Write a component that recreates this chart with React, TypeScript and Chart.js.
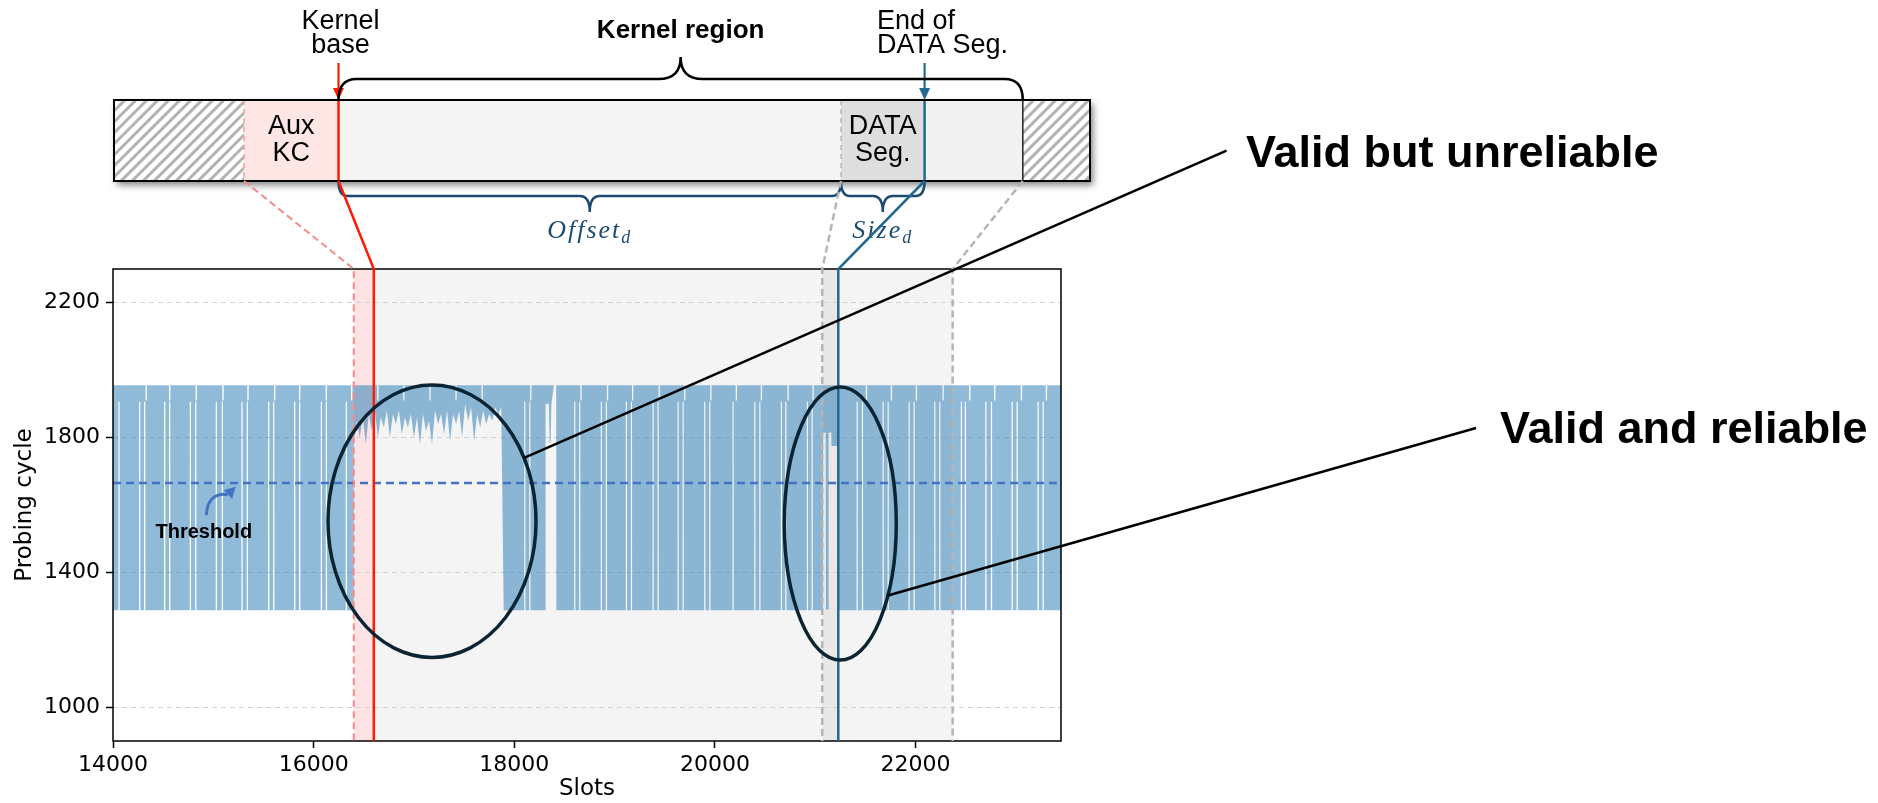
import React, { useEffect, useRef } from "react";
import { Chart, registerables } from "chart.js";

Chart.register(...registerables);

// ---------------- data ----------------
const slotRange = [14000, 23450];
const cycleRange = [900, 2300];
const slotTicks = [14000, 16000, 18000, 20000, 22000];
const cycleTicks = [1000, 1400, 1800, 2200];

const thresholdCycle = 1665;
const bandTopCycle = 1955;
const bandBottomCycle = 1288;
const notchCycle = 1910;
const gapCycle = 1906;

// slot ranges where probing alternates between fast (~1290) and slow (~1955)
const denseRanges = [
  [14000, 16395],
  [17895, 18310],
  [18420, 21075],
  [21225, 23450],
];
// slots where the band has a white gap (no fast probe)
const gapSlots = [
  14060, 14266, 14316, 14515, 14565, 14771, 14825, 15030, 15090, 15286, 15339, 15552, 15602, 15811,
  15861, 16077, 16127, 16326, 18105, 18155, 18603, 18652, 18868, 18918, 19118, 19168, 19384, 19434,
  19633, 19683, 19899, 19949, 20181, 20398, 20448, 20663, 20707, 20922, 20969, 21418, 21471, 21677,
  21727, 21936, 21986, 22192, 22242, 22457, 22497, 22701, 22757, 22963, 23013, 23222, 23272,
];
// slots where the top of the band dips
const notchSlots = [
  14332, 14565, 14830, 15097, 15346, 15612, 15861, 16127, 16380, 16640, 16900, 17160, 17420, 17680,
  18165, 18665, 18930, 19180, 19445, 19700, 19960, 20214, 20464, 20730, 20979, 21511, 21760, 22009,
  22275, 22541, 22790, 23056, 23305,
];
// lowest probing cycle inside the kernel-start region (every 30 slots from 16400)
const reliefStartSlot = 16400;
const reliefStepSlots = 30;
const reliefLows = [
  1790, 1850, 1800, 1860, 1780, 1870, 1820, 1880, 1800, 1860, 1830, 1880, 1800, 1870, 1840, 1880,
  1810, 1860, 1830, 1870, 1800, 1860, 1780, 1870, 1820, 1850, 1780, 1880, 1840, 1870, 1810, 1880,
  1790, 1870, 1840, 1880, 1800, 1900, 1850, 1890, 1790, 1870, 1830, 1880, 1840, 1870, 1850, 1890,
  1870, 1890,
];
const dropoutSlots = [18312, 18345, 18352, 18362, 18370, 18395, 18418];
const dropoutLows = [1900, 1900, 1785, 1785, 1900, 1955, 1955];
const dataSegSlots = [21078, 21105, 21108, 21130, 21133, 21160, 21163, 21222];
const dataSegLows = [1815, 1815, 1290, 1290, 1815, 1815, 1775, 1775];

// region markers (slots)
const auxStartSlot = 16400;
const kernelBaseSlot = 16600;
const dataSegStartSlot = 21070;
const dataSegEndSlot = 21230;
const kernelEndSlot = 22370;

const ellipses = [
  { cx: 17180, cy: 1552, rx: 1037, ry: 404, callAngle: -27.7 },
  { cx: 21250, cy: 1545, rx: 558, ry: 405, callAngle: 31.8 },
];
const calloutTexts = ["Valid but unreliable", "Valid and reliable"];

// --------------- builders ---------------
type P = { x: number; y: number };
function buildUpper(): P[] {
  const pts: P[] = [{ x: slotRange[0], y: bandTopCycle }];
  for (const n of notchSlots) {
    pts.push({ x: n - 7, y: bandTopCycle }, { x: n - 6, y: notchCycle }, { x: n + 6, y: notchCycle }, { x: n + 7, y: bandTopCycle });
  }
  pts.push({ x: slotRange[1], y: bandTopCycle });
  return pts.sort((a, b) => a.x - b.x);
}
function buildLower(): P[] {
  const pts: P[] = [];
  for (const [a, b] of denseRanges) {
    pts.push({ x: a, y: bandBottomCycle });
    for (const g of gapSlots) {
      if (g - 8 > a && g + 8 < b) {
        pts.push({ x: g - 7, y: bandBottomCycle }, { x: g - 6, y: gapCycle }, { x: g + 6, y: gapCycle }, { x: g + 7, y: bandBottomCycle });
      }
    }
    pts.push({ x: b, y: bandBottomCycle });
  }
  reliefLows.forEach((v, i) => pts.push({ x: reliefStartSlot + i * reliefStepSlots, y: v }));
  dropoutSlots.forEach((s, i) => pts.push({ x: s, y: dropoutLows[i] }));
  dataSegSlots.forEach((s, i) => pts.push({ x: s, y: dataSegLows[i] }));
  return pts.sort((a, b) => a.x - b.x);
}

// --------------- drawing helpers ---------------
const SANS = '"Liberation Sans", Arial, sans-serif';
const AXIS = '"DejaVu Sans", sans-serif';

function brace(ctx: CanvasRenderingContext2D, x1: number, x2: number, yBase: number, yLine: number, yTip: number, rEnd: number, rTip: number) {
  const mid = (x1 + x2) / 2;
  ctx.beginPath();
  ctx.moveTo(x1, yBase);
  ctx.quadraticCurveTo(x1, yLine, x1 + rEnd, yLine);
  ctx.lineTo(mid - rTip, yLine);
  ctx.quadraticCurveTo(mid, yLine, mid, yTip);
  ctx.quadraticCurveTo(mid, yLine, mid + rTip, yLine);
  ctx.lineTo(x2 - rEnd, yLine);
  ctx.quadraticCurveTo(x2, yLine, x2, yBase);
  ctx.stroke();
}

function arrowDown(ctx: CanvasRenderingContext2D, x: number, y0: number, y1: number, color: string) {
  ctx.strokeStyle = color;
  ctx.fillStyle = color;
  ctx.lineWidth = 2.2;
  ctx.setLineDash([]);
  ctx.beginPath();
  ctx.moveTo(x, y0);
  ctx.lineTo(x, y1 - 8);
  ctx.stroke();
  ctx.beginPath();
  ctx.moveTo(x - 5.5, y1 - 12);
  ctx.lineTo(x + 5.5, y1 - 12);
  ctx.lineTo(x, y1);
  ctx.closePath();
  ctx.fill();
}

function hatch(ctx: CanvasRenderingContext2D, x0: number, x1: number, y0: number, y1: number) {
  ctx.save();
  ctx.fillStyle = "#ffffff";
  ctx.fillRect(x0, y0, x1 - x0, y1 - y0);
  ctx.beginPath();
  ctx.rect(x0, y0, x1 - x0, y1 - y0);
  ctx.clip();
  ctx.strokeStyle = "#b2b2b2";
  ctx.lineWidth = 3;
  const h = y1 - y0;
  ctx.beginPath();
  for (let x = x0 - h; x < x1 + h; x += 11) {
    ctx.moveTo(x, y1);
    ctx.lineTo(x + h, y0);
  }
  ctx.stroke();
  ctx.restore();
}

function mathLabel(ctx: CanvasRenderingContext2D, main: string, sub: string, cx: number, baseline: number) {
  ctx.save();
  ctx.fillStyle = "#1c4a72";
  (ctx as any).letterSpacing = "2px";
  ctx.font = 'italic 26px "Liberation Serif", serif';
  const w1 = ctx.measureText(main).width;
  ctx.font = 'italic 18px "Liberation Serif", serif';
  const w2 = ctx.measureText(sub).width;
  const x0 = cx - (w1 + w2) / 2;
  ctx.textAlign = "left";
  ctx.textBaseline = "alphabetic";
  ctx.font = 'italic 26px "Liberation Serif", serif';
  ctx.fillText(main, x0, baseline);
  ctx.font = 'italic 18px "Liberation Serif", serif';
  ctx.fillText(sub, x0 + w1, baseline + 5);
  ctx.restore();
}

// --------------- plugin ---------------
const overlay = {
  id: "overlay",
  beforeDraw(chart: any) {
    const { ctx, chartArea: a, scales } = chart;
    const x = scales.x;
    ctx.save();
    ctx.fillStyle = "#ffffff";
    ctx.fillRect(0, 0, chart.width, chart.height);
    const band = (s0: number, s1: number, color: string) => {
      const p0 = x.getPixelForValue(s0);
      const p1 = x.getPixelForValue(s1);
      ctx.fillStyle = color;
      ctx.fillRect(p0, a.top, p1 - p0, a.bottom - a.top);
    };
    band(auxStartSlot, kernelBaseSlot, "#fde3e3");
    band(kernelBaseSlot, kernelEndSlot, "#f4f4f4");
    band(dataSegStartSlot, dataSegEndSlot, "#e8e8e8");
    ctx.restore();
  },
  afterDatasetsDraw(chart: any) {
    const { ctx, chartArea: a, scales } = chart;
    const x = scales.x;
    const y = scales.y;
    ctx.save();

    // frame
    ctx.strokeStyle = "#000";
    ctx.lineWidth = 1.5;
    ctx.setLineDash([]);
    ctx.strokeRect(a.left, a.top, a.right - a.left, a.bottom - a.top);

    // ---------- top diagram ----------
    const bx0 = 114, bx1 = 1090, by0 = 100, by1 = 181;
    const hatchR = 244, baseX = 338.5, segL = 841, segR = 924.6, regionR = 1022.8;

    ctx.save();
    ctx.shadowColor = "rgba(0,0,0,0.5)";
    ctx.shadowBlur = 7;
    ctx.shadowOffsetX = 3;
    ctx.shadowOffsetY = 4;
    ctx.fillStyle = "#ffffff";
    ctx.fillRect(bx0, by0, bx1 - bx0, by1 - by0);
    ctx.restore();

    hatch(ctx, bx0, hatchR, by0, by1);
    hatch(ctx, regionR, bx1, by0, by1);
    ctx.fillStyle = "#fde6e4";
    ctx.fillRect(hatchR, by0, baseX - hatchR, by1 - by0);
    ctx.fillStyle = "#f5f5f5";
    ctx.fillRect(baseX, by0, segL - baseX, by1 - by0);
    ctx.fillStyle = "#dedede";
    ctx.fillRect(segL, by0, segR - segL, by1 - by0);
    ctx.fillStyle = "#f1f1f1";
    ctx.fillRect(segR, by0, regionR - segR, by1 - by0);

    // inner separators
    ctx.lineWidth = 1.5;
    ctx.setLineDash([5, 4]);
    ctx.strokeStyle = "#f4a0a0";
    ctx.beginPath(); ctx.moveTo(hatchR, by0); ctx.lineTo(hatchR, by1); ctx.stroke();
    ctx.strokeStyle = "#b8b8b8";
    ctx.beginPath(); ctx.moveTo(segL, by0); ctx.lineTo(segL, by1); ctx.stroke();
    ctx.setLineDash([]);
    ctx.strokeStyle = "#222";
    ctx.lineWidth = 1.5;
    ctx.beginPath(); ctx.moveTo(regionR, by0); ctx.lineTo(regionR, by1); ctx.stroke();

    ctx.strokeStyle = "#ff1a00";
    ctx.lineWidth = 2.5;
    ctx.beginPath(); ctx.moveTo(baseX, by0); ctx.lineTo(baseX, by1); ctx.stroke();
    ctx.strokeStyle = "#23698f";
    ctx.beginPath(); ctx.moveTo(segR, by0); ctx.lineTo(segR, by1); ctx.stroke();

    ctx.strokeStyle = "#000";
    ctx.lineWidth = 2;
    ctx.strokeRect(bx0, by0, bx1 - bx0, by1 - by0);

    // texts in bar
    ctx.fillStyle = "#000";
    ctx.font = `27px ${SANS}`;
    ctx.textAlign = "center";
    ctx.textBaseline = "alphabetic";
    ctx.fillText("Aux", (hatchR + baseX) / 2, 134);
    ctx.fillText("KC", (hatchR + baseX) / 2, 161);
    ctx.fillText("DATA", (segL + segR) / 2, 134);
    ctx.fillText("Seg.", (segL + segR) / 2, 161);

    // labels above
    ctx.fillText("Kernel", baseX + 2, 29);
    ctx.fillText("base", baseX + 2, 53);
    ctx.textAlign = "left";
    ctx.fillText("End of", 877, 29);
    ctx.fillText("DATA Seg.", 877, 53);
    ctx.textAlign = "center";
    ctx.font = `bold 26px ${SANS}`;
    ctx.fillText("Kernel region", (baseX + regionR) / 2, 38);

    arrowDown(ctx, baseX, 63, by0, "#ff1a00");
    arrowDown(ctx, segR, 63, by0, "#23698f");

    // braces
    ctx.setLineDash([]);
    ctx.strokeStyle = "#000";
    ctx.lineWidth = 2.5;
    brace(ctx, baseX, regionR, by0, 79, 57, 18, 22);
    ctx.strokeStyle = "#1c4a72";
    ctx.lineWidth = 2.5;
    brace(ctx, baseX, segL, by1, 196, 212, 9, 10);
    brace(ctx, segL, segR, by1, 196, 212, 9, 10);
    mathLabel(ctx, "Offset", "d", (baseX + segL) / 2, 238);
    mathLabel(ctx, "Size", "d", (segL + segR) / 2, 238);

    // ---------- marker lines: bar -> plot ----------
    const marker = (barX: number, slot: number, color: string, width: number, dash: number[]) => {
      const px = x.getPixelForValue(slot);
      ctx.strokeStyle = color;
      ctx.lineWidth = width;
      ctx.setLineDash(dash);
      ctx.beginPath();
      ctx.moveTo(barX, by1);
      ctx.lineTo(px, a.top);
      ctx.lineTo(px, a.bottom);
      ctx.stroke();
    };
    marker(hatchR, auxStartSlot, "#f78b8b", 2, [7, 4]);
    marker(segL, dataSegStartSlot, "#b5b5b5", 2.5, [7, 4]);
    marker(regionR, kernelEndSlot, "#b5b5b5", 2.5, [7, 4]);
    marker(baseX, kernelBaseSlot, "#ff1a00", 2.5, []);
    marker(segR, dataSegEndSlot, "#23698f", 2.5, []);
    ctx.setLineDash([]);

    // ---------- threshold annotation ----------
    const tx = x.getPixelForValue(14905);
    const ty = y.getPixelForValue(1502);
    ctx.fillStyle = "#000";
    ctx.font = `bold 20px ${SANS}`;
    ctx.textAlign = "center";
    ctx.textBaseline = "alphabetic";
    ctx.fillText("Threshold", tx, ty);
    const sx = x.getPixelForValue(14930), sy = y.getPixelForValue(1570);
    const ex = x.getPixelForValue(15223), ey = y.getPixelForValue(1654);
    ctx.strokeStyle = "#4472c4";
    ctx.fillStyle = "#4472c4";
    ctx.lineWidth = 3;
    ctx.beginPath();
    ctx.moveTo(sx, sy);
    ctx.bezierCurveTo(sx + 1, sy - 20, sx + 14, sy - 22, ex - 8, ey + 8);
    ctx.stroke();
    const ang = Math.atan2(ey - (ey + 8), ex - (ex - 8));
    ctx.beginPath();
    ctx.moveTo(ex, ey);
    ctx.lineTo(ex - 11 * Math.cos(ang) + 6 * Math.sin(ang), ey - 11 * Math.sin(ang) - 6 * Math.cos(ang));
    ctx.lineTo(ex - 11 * Math.cos(ang) - 6 * Math.sin(ang), ey - 11 * Math.sin(ang) + 6 * Math.cos(ang));
    ctx.closePath();
    ctx.fill();

    // ---------- ellipses + callouts ----------
    const anchors = [
      { x: 1226.5, y: 150.7, tx: 1246, ty: 167 },
      { x: 1476, y: 428, tx: 1500, ty: 443 },
    ];
    ellipses.forEach((e, i) => {
      const cx = x.getPixelForValue(e.cx);
      const cy = y.getPixelForValue(e.cy);
      const rx = Math.abs(x.getPixelForValue(e.cx + e.rx) - cx);
      const ry = Math.abs(y.getPixelForValue(e.cy + e.ry) - cy);
      ctx.strokeStyle = "#0b2432";
      ctx.lineWidth = 3.5;
      ctx.beginPath();
      ctx.ellipse(cx, cy, rx, ry, 0, 0, Math.PI * 2);
      ctx.stroke();
      const t = (e.callAngle * Math.PI) / 180;
      const px = cx + rx * Math.cos(t);
      const py = cy + ry * Math.sin(t);
      const an = anchors[i];
      ctx.strokeStyle = "#000";
      ctx.lineWidth = 2.5;
      ctx.beginPath();
      ctx.moveTo(px, py);
      ctx.lineTo(an.x, an.y);
      ctx.stroke();
      ctx.fillStyle = "#000";
      ctx.font = `bold 45px ${SANS}`;
      ctx.textAlign = "left";
      ctx.textBaseline = "alphabetic";
      ctx.fillText(calloutTexts[i], an.tx, an.ty);
    });

    ctx.restore();
  },
};

export default function App() {
  const ref = useRef<HTMLCanvasElement>(null);
  useEffect(() => {
    const canvas = ref.current!;
    const chart = new Chart(canvas, {
      type: "line",
      data: {
        datasets: [
          {
            label: "Threshold",
            data: [
              { x: slotRange[0], y: thresholdCycle },
              { x: slotRange[1], y: thresholdCycle },
            ],
            borderColor: "#4472c4",
            borderWidth: 2.5,
            borderDash: [8, 5],
            pointRadius: 0,
            fill: false,
          },
          {
            label: "upper",
            data: buildUpper(),
            borderColor: "rgba(0,0,0,0)",
            borderWidth: 0,
            pointRadius: 0,
            fill: false,
          },
          {
            label: "Probing cycle",
            data: buildLower(),
            borderColor: "rgba(0,0,0,0)",
            borderWidth: 0,
            pointRadius: 0,
            backgroundColor: "rgba(31,119,180,0.5)",
            fill: 1,
          },
        ],
      },
      options: {
        animation: false,
        responsive: false,
        devicePixelRatio: 1,
        layout: { padding: { top: 269, right: 817, left: 0, bottom: 0 } },
        plugins: { legend: { display: false }, tooltip: { enabled: false } },
        elements: { line: { tension: 0 } },
        scales: {
          x: {
            type: "linear",
            min: slotRange[0],
            max: slotRange[1],
            afterFit: (s: any) => { s.height = 62; },
            afterBuildTicks: (s: any) => { s.ticks = slotTicks.map((v) => ({ value: v })); },
            ticks: {
              callback: (v: any) => String(v),
              font: { family: AXIS, size: 22 },
              color: "#000",
              padding: 4,
              maxRotation: 0,
              autoSkip: false,
            },
            grid: { drawOnChartArea: false, drawTicks: true, tickLength: 7, tickColor: "#000", tickWidth: 1.5, tickBorderDash: [] },
            border: { display: false },
            title: { display: true, text: "Slots", font: { family: AXIS, size: 23 }, color: "#000", padding: { top: 0, bottom: 0 } },
          },
          y: {
            type: "linear",
            min: cycleRange[0],
            max: cycleRange[1],
            afterFit: (s: any) => { s.width = 113; },
            afterBuildTicks: (s: any) => { s.ticks = cycleTicks.map((v) => ({ value: v })); },
            ticks: {
              callback: (v: any) => String(v),
              font: { family: AXIS, size: 22 },
              color: "#000",
              padding: 6,
              autoSkip: false,
            },
            grid: { color: "#d2d2d2", lineWidth: 1, drawTicks: true, tickLength: 7, tickColor: "#000", tickWidth: 1.5, tickBorderDash: [] },
            border: { display: false, dash: [5, 4] },
            title: { display: true, text: "Probing cycle", font: { family: AXIS, size: 23 }, color: "#000", padding: { top: 11, bottom: 0 } },
          },
        },
      },
      plugins: [overlay],
    } as any);
    return () => chart.destroy();
  }, []);
  return (
    <div style={{ position: "absolute", left: 0, top: 0, width: 1878, height: 803, background: "#fff" }}>
      <canvas ref={ref} width={1878} height={803} style={{ display: "block", width: 1878, height: 803 }} />
    </div>
  );
}
